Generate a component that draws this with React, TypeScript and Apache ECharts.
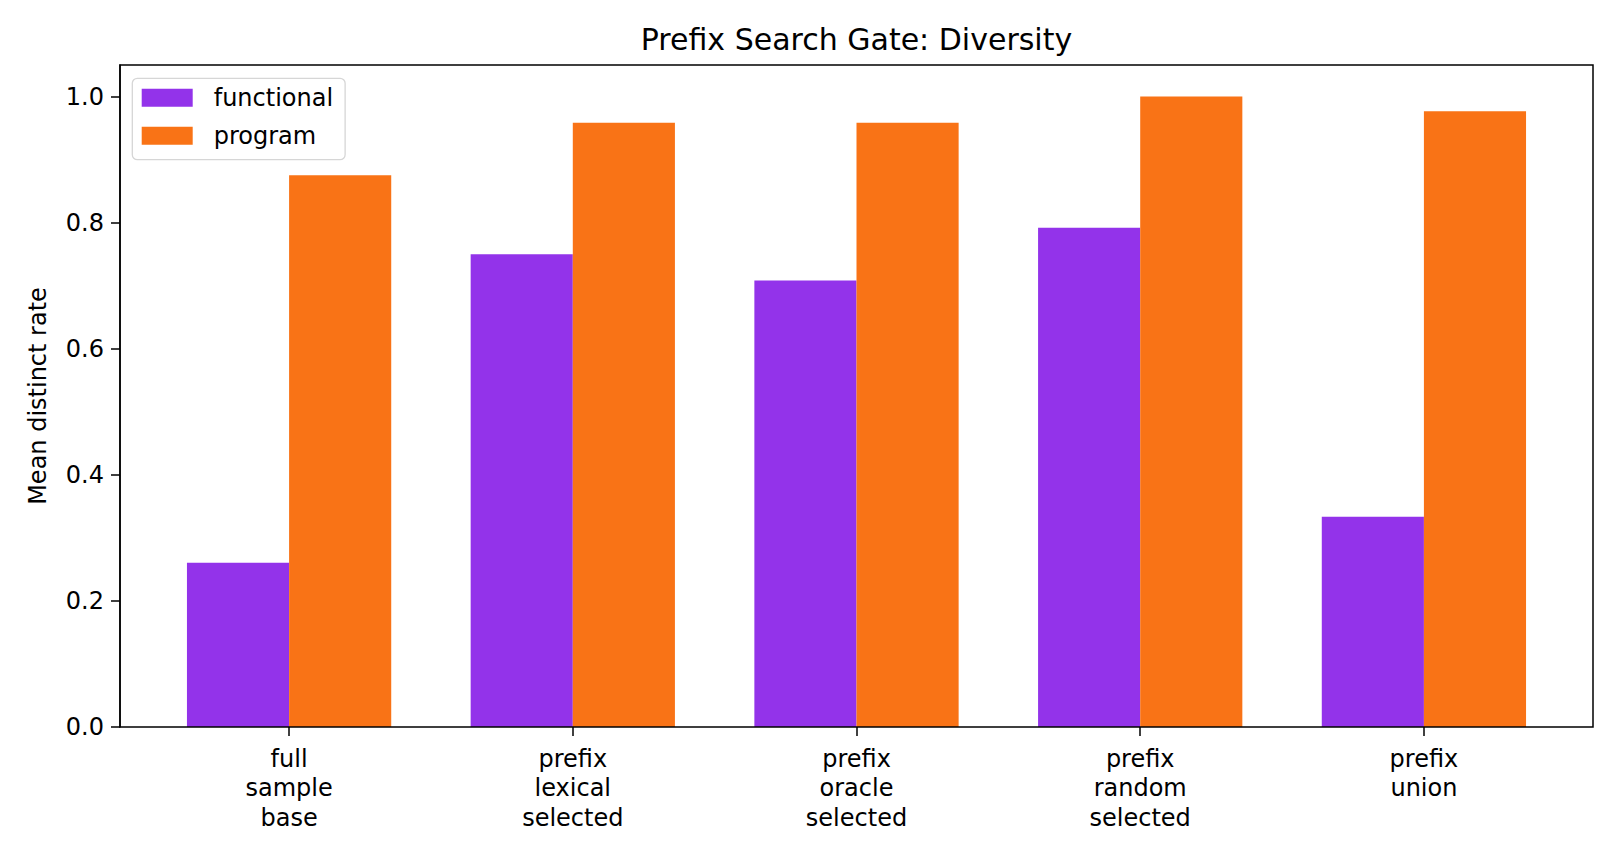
import { useEffect, useRef } from "react";
import * as echarts from "echarts";

// categories (tick labels are split on several lines, as in the original)
const categories = [
  "full\nsample\nbase",
  "prefix\nlexical\nselected",
  "prefix\noracle\nselected",
  "prefix\nrandom\nselected",
  "prefix\nunion",
];
const functionalRates = [0.2604, 0.75, 0.7083, 0.7917, 0.3333];
const programRates = [0.875, 0.9583, 0.9583, 1.0, 0.9766];
const yTicks = [0, 0.2, 0.4, 0.6, 0.8, 1.0];

const FONT = "DejaVu Sans";

const App = () => {
  const chartRef = useRef<HTMLDivElement>(null);

  useEffect(() => {
    if (!chartRef.current) return;
    const chart = echarts.init(chartRef.current, undefined, { renderer: "svg" });

    // axes frame in pixels (matplotlib-like box)
    const frameLeft = 120;
    const frameRight = 1593;
    const frameTop = 65;
    const frameBottom = 727;
    // x range of the original: -0.596 .. 4.596 (bar width 0.36)
    const unit = (frameRight - frameLeft) / 5.192;
    const firstCenter = frameLeft + 0.596 * unit;
    const gridLeft = firstCenter - unit / 2;
    const gridRightEdge = gridLeft + unit * categories.length;

    const options = {
      animation: false,
      backgroundColor: "#ffffff",
      textStyle: { fontFamily: FONT },
      title: {
        text: "Prefix Search Gate: Diversity",
        left: (frameLeft + frameRight) / 2,
        textAlign: "center",
        top: 22,
        padding: 0,
        textStyle: { fontFamily: FONT, fontSize: 30, fontWeight: "normal", color: "#000", lineHeight: 35 },
      },
      legend: {
        orient: "vertical",
        left: 132.3,
        top: 78.3,
        padding: [7.5, 12, 12, 9.4],
        itemGap: 13.9,
        itemWidth: 51,
        itemHeight: 18,
        icon: "rect",
        borderColor: "#d6d6d6",
        borderWidth: 1.3,
        borderRadius: 5,
        backgroundColor: "rgba(255,255,255,0.8)",
        textStyle: { fontFamily: FONT, fontSize: 24, color: "#000", lineHeight: 24, padding: [0, 0, 0, 16] },
        data: ["functional", "program"],
      },
      grid: {
        left: gridLeft,
        right: 1620 - gridRightEdge,
        top: frameTop,
        bottom: 864 - frameBottom,
        containLabel: false,
      },
      xAxis: {
        type: "category",
        data: categories,
        axisLine: { show: false },
        axisTick: { show: true, alignWithLabel: true, length: 9, lineStyle: { color: "#000", width: 1.5 } },
        axisLabel: { fontFamily: FONT, fontSize: 24, color: "#000", lineHeight: 29.5, margin: 17, interval: 0 },
        splitLine: { show: false },
      },
      yAxis: {
        type: "value",
        min: 0,
        max: 1.05,
        interval: 0.2,
        offset: gridLeft - frameLeft,
        name: "Mean distinct rate",
        nameLocation: "middle",
        nameGap: 70,
        nameTextStyle: { fontFamily: FONT, fontSize: 24, color: "#000" },
        axisLine: { show: true, lineStyle: { color: "#000", width: 1.5 } },
        axisTick: { show: true, length: 9, lineStyle: { color: "#000", width: 1.5 }, customValues: yTicks },
        axisLabel: {
          fontFamily: FONT,
          fontSize: 24,
          color: "#000",
          margin: 16,
          customValues: yTicks,
          formatter: (v: number) => v.toFixed(1),
        },
        splitLine: { show: false },
      },
      series: [
        {
          name: "functional",
          type: "bar",
          data: functionalRates,
          barWidth: 0.36 * unit,
          barGap: "0%",
          itemStyle: { color: "#9333ea" },
        },
        {
          name: "program",
          type: "bar",
          data: programRates,
          barWidth: 0.36 * unit,
          barGap: "0%",
          itemStyle: { color: "#f97316" },
        },
      ],
      graphic: [
        {
          type: "rect",
          z: 100,
          silent: true,
          shape: { x: frameLeft, y: frameTop, width: frameRight - frameLeft, height: frameBottom - frameTop },
          style: { fill: "none", stroke: "#000", lineWidth: 1.5 },
        },
      ],
    };

    chart.setOption(options);

    return () => {
      chart.dispose();
    };
  }, []);

  return (
    <div
      ref={chartRef}
      style={{ position: "fixed", left: 0, top: 0, width: "1620px", height: "864px" }}
    />
  );
};

export default App;
